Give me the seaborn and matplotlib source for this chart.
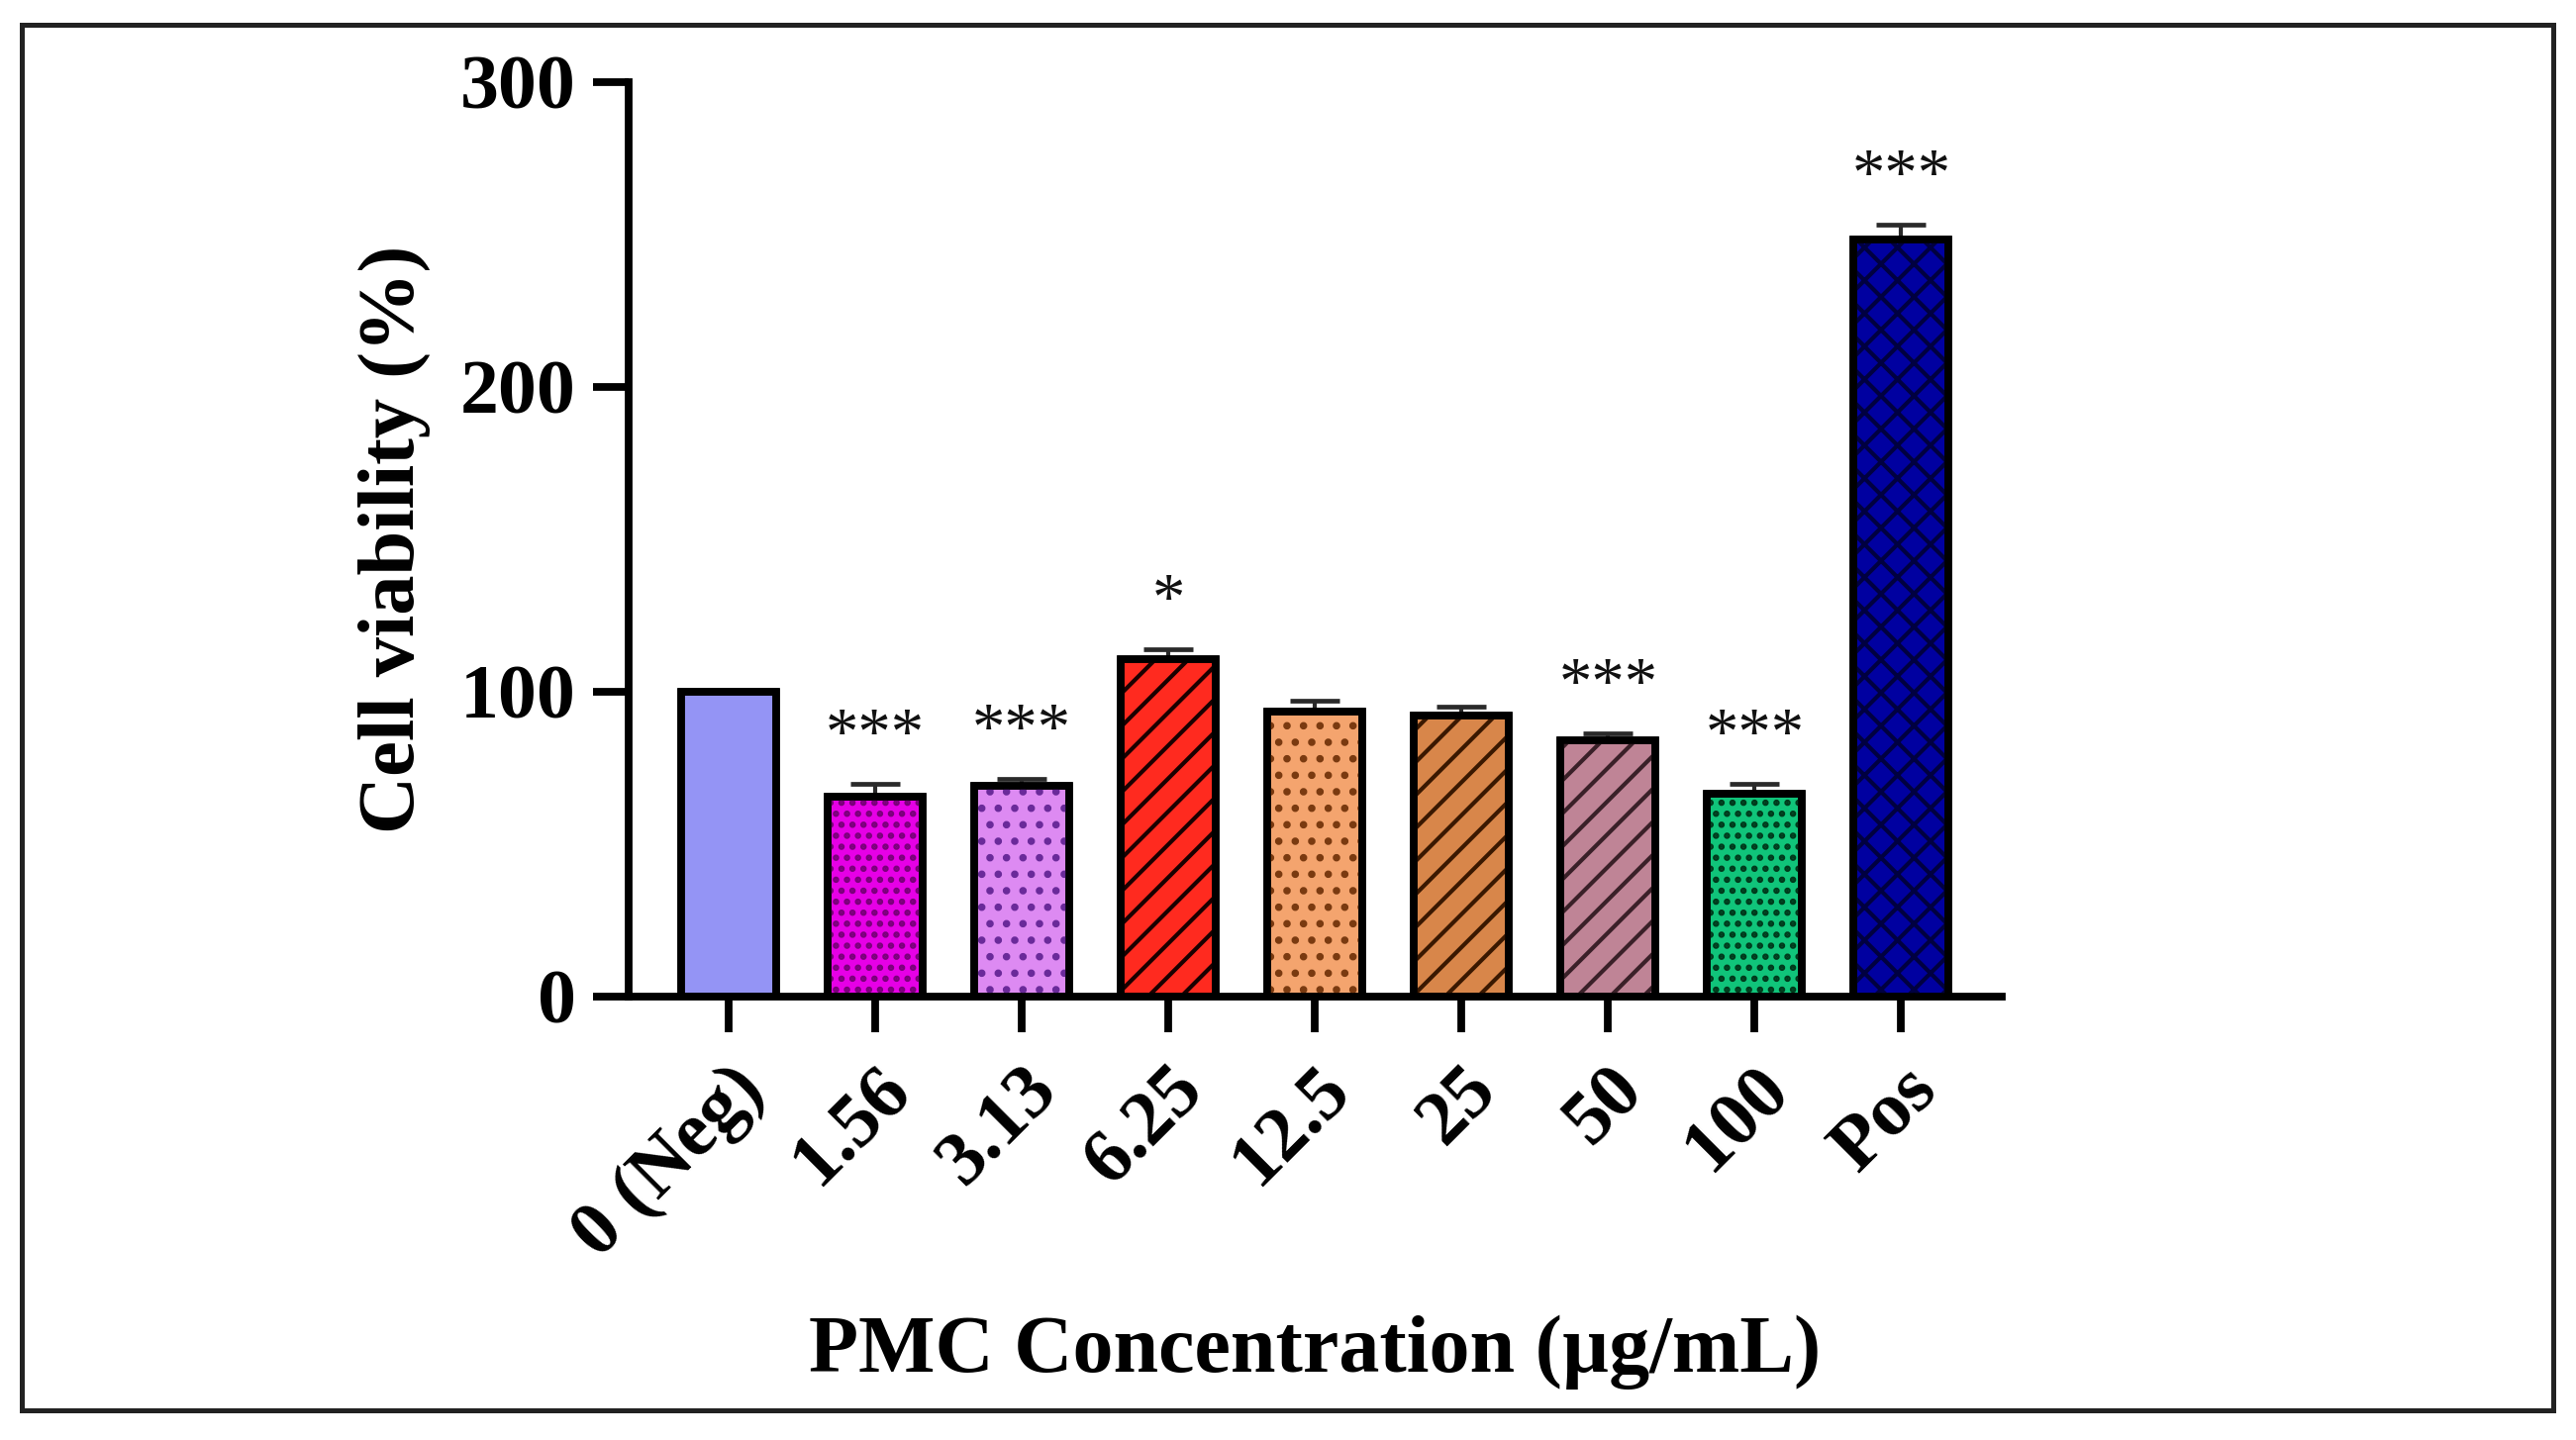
import numpy as np
import matplotlib
matplotlib.use('Agg')
import matplotlib.pyplot as plt
from matplotlib.patches import Rectangle
import seaborn as sns

# data
labels = ['0 (Neg)', '1.56', '3.13', '6.25', '12.5', '25', '50', '100', 'Pos']
means = [100, 65.6, 69.2, 110.7, 93.4, 92.3, 84.2, 66.4, 248.5]
errs = [0, 4.1, 2.1, 3.2, 3.5, 2.7, 2.2, 3.3, 4.8]
stars = ['', '***', '***', '*', '', '', '***', '***', '***']

colors = ['#9494F5', '#E600E6', '#DD8AF2', '#FF2A1F', '#F4A46E',
          '#D8864A', '#BF8496', '#10C47A', '#0000A0']
hatches = [None, '...', '..', '//', '..', '//', '//', '...', 'xx']
hatch_colors = [None, '#7A007A', '#6A2A9A', '#1A0000', '#7A3A10',
                '#3A1800', '#3A2028', '#003A1C', '#000040']

sns.set_style('ticks')
plt.rcParams['font.family'] = ['Liberation Serif', 'DejaVu Serif']
plt.rcParams['font.weight'] = 'bold'
plt.rcParams['hatch.linewidth'] = 1.5
for key in ['text.color', 'axes.labelcolor', 'xtick.color', 'ytick.color', 'axes.edgecolor']:
    plt.rcParams[key] = 'black'

fig = plt.figure(figsize=(13.01, 7.275), dpi=200)
ax = fig.add_axes([0.244, 0.308, 0.533, 0.635])

sns.barplot(x=labels, y=means, hue=labels, palette=colors, legend=False,
            width=0.65, saturation=1, edgecolor='black', linewidth=2.7,
            errorbar=None, ax=ax, zorder=2)

ax.errorbar(x=np.arange(len(labels)), y=means,
            yerr=[np.zeros(len(errs)), errs], fmt='none', ecolor='#2a2a2a',
            elinewidth=1.5, capsize=9, capthick=1.7, zorder=1)

# hatch overlay + outline on top
for bar, h, hc in zip(ax.patches[:len(labels)], hatches, hatch_colors):
    x0, y0 = bar.get_xy()
    w, hgt = bar.get_width(), bar.get_height()
    if h:
        ax.add_patch(Rectangle((x0, y0), w, hgt, facecolor='none', edgecolor=hc,
                               hatch=h, lw=0, zorder=3))
    ax.add_patch(Rectangle((x0, y0), w, hgt, fill=False, edgecolor='black',
                           lw=2.7, zorder=4))

for i, s in enumerate(stars):
    if s:
        ax.text(i, means[i] + errs[i] + 10, s, ha='center', va='baseline',
                fontsize=24, fontweight='normal', color='#111111')

ax.set_ylim(0, 300)
ax.set_xlim(-0.685, len(labels) - 1 + 0.685)
ax.set_yticks([0, 100, 200, 300])
sns.despine(ax=ax)
for sp in ['left', 'bottom']:
    ax.spines[sp].set_linewidth(2.8)
ax.tick_params(axis='both', width=2.8, length=13, labelsize=28, pad=6)
ax.tick_params(axis='x', pad=8)
plt.setp(ax.get_xticklabels(), rotation=45, ha='right', rotation_mode='anchor',
         fontweight='bold')
plt.setp(ax.get_yticklabels(), fontweight='bold')

ax.set_ylabel('Cell viability (%)', fontsize=29, fontweight='bold')
ax.set_xlabel('PMC Concentration (µg/mL)', fontsize=29.5, fontweight='bold')
ax.yaxis.set_label_coords(-0.144, 0.5)
ax.xaxis.set_label_coords(0.5, -0.348)

fig.patches.append(Rectangle((0.0083, 0.0205), 0.983, 0.9625, transform=fig.transFigure,
                             fill=False, edgecolor='#222222', lw=1.8))

fig.savefig('out.png', dpi=200)
